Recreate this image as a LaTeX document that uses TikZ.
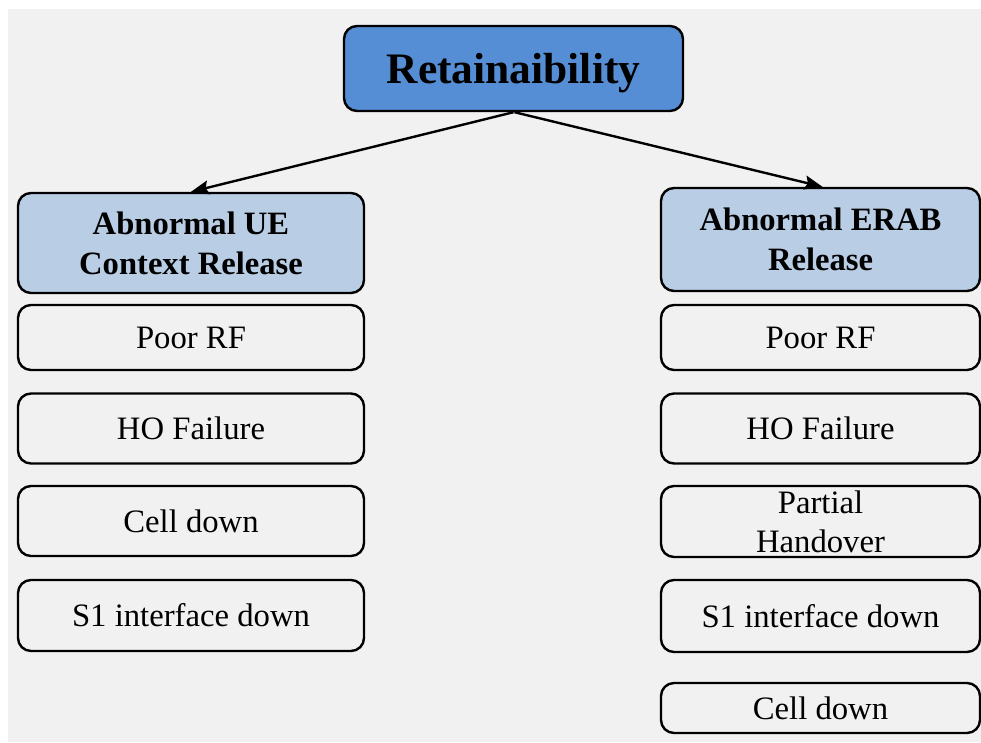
\documentclass[tikz,border=0pt]{standalone}
\usepackage{fontspec}
\setmainfont{Liberation Serif}
\usetikzlibrary{arrows.meta}
\definecolor{bggray}{HTML}{F1F1F1}
\definecolor{topblue}{HTML}{558ED5}
\definecolor{headblue}{HTML}{B9CDE5}
\begin{document}
\begin{tikzpicture}[x=1pt,y=-1pt,
  boxbase/.style={draw=black,line width=2.4pt,rounded corners=13pt,align=center,inner sep=0pt},
  topbox/.style={boxbase,fill=topblue,minimum width=339pt,minimum height=85pt,text depth=0pt,font=\fontsize{43.5}{50}\selectfont\bfseries},
  headbox/.style={boxbase,fill=headblue,font=\fontsize{32.6}{40}\selectfont\bfseries},
  itembox/.style={boxbase,fill=bggray,font=\fontsize{32.7}{39}\selectfont},
  link/.style={line width=2.4pt,-{Stealth[length=18pt,width=14pt,inset=3pt]}}
]
\useasboundingbox (0,0) rectangle (981,742);
\fill[bggray] (8,9) rectangle (981,742);

\node[topbox] (top) at (513.5,68.5) {Retainaibility};

\node[headbox,minimum width=346pt,minimum height=100pt] (lh) at (191,243) {Abnormal UE\\Context Release};
\node[headbox,minimum width=319pt,minimum height=103pt] (rh) at (820.5,239.5) {Abnormal ERAB\\Release};

\node[itembox,minimum width=346pt,minimum height=65pt] (l1) at (191,337.5) {Poor RF};
\node[itembox,minimum width=346pt,minimum height=70pt] (l2) at (191,428.5) {HO Failure};
\node[itembox,minimum width=346pt,minimum height=70pt] (l3) at (191,521) {Cell down};
\node[itembox,minimum width=346pt,minimum height=71pt] (l4) at (191,615.5) {S1 interface down};

\node[itembox,minimum width=319pt,minimum height=65pt] (r1) at (820.5,337.5) {Poor RF};
\node[itembox,minimum width=319pt,minimum height=70pt] (r2) at (820.5,428.5) {HO Failure};
\node[itembox,minimum width=319pt,minimum height=71pt] (r3) at (820.5,521.5) {};
\node[font=\fontsize{32.7}{39}\selectfont,align=center,inner sep=0pt] (r3t) at (r3.center) {Partial\\Handover};
\node[itembox,minimum width=319pt,minimum height=72pt] (r4) at (820.5,616) {S1 interface down};
\node[itembox,minimum width=319pt,minimum height=50pt] (r5) at (820.5,708) {Cell down};

\draw[link] (top.south) -- (lh.north);
\draw[link] ([xshift=1pt]top.south) -- ([xshift=2pt]rh.north);
\end{tikzpicture}
\end{document}
